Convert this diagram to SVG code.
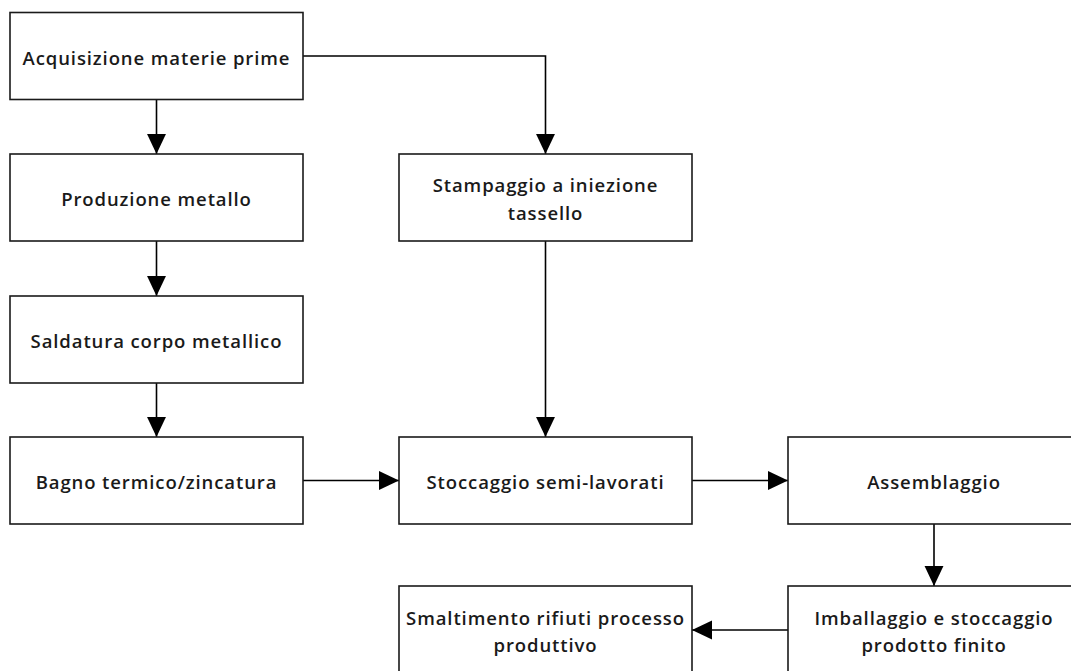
<svg xmlns="http://www.w3.org/2000/svg" width="1071" height="671" viewBox="0 0 1071 671">
<style>
.box{fill:#fff;stroke:#1a1a1a;stroke-width:1.6}
.t{font-family:"Open Sans","Liberation Sans",sans-serif;font-weight:600;font-size:18.5px;letter-spacing:0.9px;fill:#1a1a1a;text-anchor:middle}
.c{fill:none;stroke:#000;stroke-width:1.6}
</style>
<defs>
<marker id="ah" markerUnits="userSpaceOnUse" markerWidth="20" markerHeight="20" viewBox="0 0 18 18" refX="18" refY="9" orient="auto">
<path d="M0,0.5 L18,9 L0,17.5 Z" fill="#000"/>
</marker>
</defs>
<rect width="1071" height="671" fill="#fff"/>
<g id="connectors">
<path class="c" d="M156.5,99.5 V154" marker-end="url(#ah)"/>
<path class="c" d="M156.5,241 V296" marker-end="url(#ah)"/>
<path class="c" d="M156.5,383 V437" marker-end="url(#ah)"/>
<path class="c" d="M303,56 H545.5 V154" marker-end="url(#ah)"/>
<path class="c" d="M545.5,241 V437" marker-end="url(#ah)"/>
<path class="c" d="M303,480.5 H399" marker-end="url(#ah)"/>
<path class="c" d="M692,480.5 H788" marker-end="url(#ah)"/>
<path class="c" d="M934,524 V586" marker-end="url(#ah)"/>
<path class="c" d="M788,630 H692" marker-end="url(#ah)"/>
</g>
<g id="n1"><rect class="box" x="10" y="12.5" width="293" height="87"/><text class="t" x="156.5" y="65">Acquisizione materie prime</text></g>
<g id="n2"><rect class="box" x="10" y="154" width="293" height="87"/><text class="t" x="156.5" y="206">Produzione metallo</text></g>
<g id="n3"><rect class="box" x="10" y="296" width="293" height="87"/><text class="t" x="156.5" y="348">Saldatura corpo metallico</text></g>
<g id="n4"><rect class="box" x="10" y="437" width="293" height="87"/><text class="t" x="156.5" y="489">Bagno termico/zincatura</text></g>
<g id="n5"><rect class="box" x="399" y="154" width="293" height="87"/><text class="t" x="545.5" y="192">Stampaggio a iniezione</text><text class="t" x="545.5" y="220">tassello</text></g>
<g id="n6"><rect class="box" x="399" y="437" width="293" height="87"/><text class="t" x="545.5" y="489">Stoccaggio semi-lavorati</text></g>
<g id="n7"><rect class="box" x="788" y="437" width="293" height="87"/><text class="t" x="934" y="489">Assemblaggio</text></g>
<g id="n8"><rect class="box" x="788" y="586" width="293" height="87"/><text class="t" x="934" y="625">Imballaggio e stoccaggio</text><text class="t" x="934" y="652">prodotto finito</text></g>
<g id="n9"><rect class="box" x="399" y="586" width="293" height="87"/><text class="t" x="545.5" y="625">Smaltimento rifiuti processo</text><text class="t" x="545.5" y="652">produttivo</text></g>
</svg>
